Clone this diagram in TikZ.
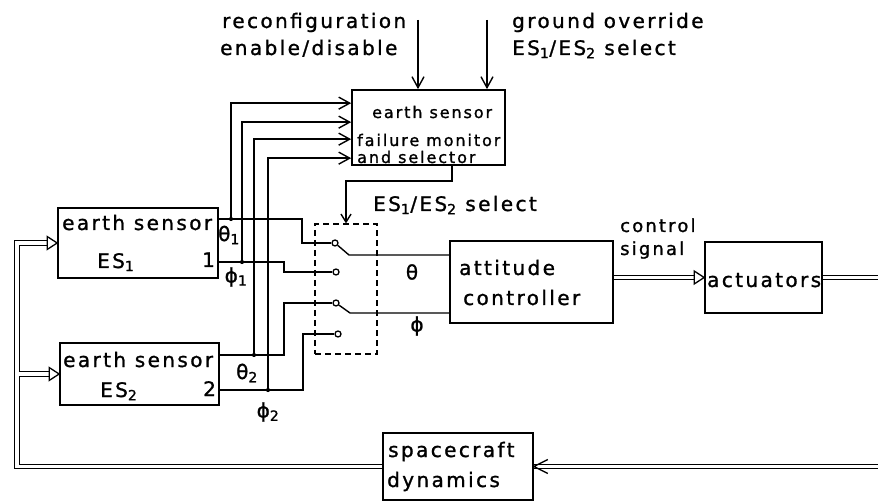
\documentclass[tikz,border=0pt]{standalone}
\usepackage{fontspec}
\setmainfont{DejaVu Sans}[LetterSpace=12, FakeBold=1.2]
\usetikzlibrary{arrows.meta,calc}
\begin{document}
\begin{tikzpicture}[x=1pt,y=-1pt,
  box/.style={draw, line width=1.7pt, inner sep=0pt},
  wire/.style={line width=1.4pt},
  arr/.style={wire, -{Straight Barb[length=11pt,width=12pt,line width=1.4pt]}},
  sarr/.style={wire, -{Straight Barb[length=8pt,width=10pt,line width=1.4pt]}},
  dbl/.style={double, double distance=3.4pt, line width=1.2pt},
  jdot/.style={circle, fill, inner sep=0pt, minimum size=4.2pt},
  contact/.style={circle, draw, fill=white, inner sep=0pt, minimum size=6pt, line width=1.3pt},
  txt/.style={inner sep=0pt, anchor=base west, font=\fontsize{20}{22}\selectfont},
  stxt/.style={txt, font=\fontsize{16}{18}\selectfont},
  ctxt/.style={txt, font=\fontsize{18}{20}\selectfont},
  lbl/.style={inner sep=0pt, font=\fontsize{20}{22}\selectfont},
  tri/.style={line width=1.3pt, fill=white}
]
\useasboundingbox (0,0) rectangle (878,502);

% boxes
\node[box, minimum width=153pt, minimum height=75pt] (mon) at (428.5,127.5) {};
\node[box, minimum width=160pt, minimum height=70pt] (es1) at (138,243) {};
\node[box, minimum width=159pt, minimum height=62pt] (es2) at (139.5,374) {};
\node[box, minimum width=163pt, minimum height=82pt] (ctrl) at (531.5,282) {};
\node[box, minimum width=117pt, minimum height=71pt] (act) at (763.5,277.5) {};
\node[box, minimum width=150pt, minimum height=67pt] (sc) at (458,466.5) {};
\node[draw, line width=1.2pt, dash pattern=on 6pt off 4pt, minimum width=62pt, minimum height=130pt, inner sep=0pt] (sw) at (346,289) {};

% texts
\node[txt] (t_rec1) at (222,28) {reconfiguration};
\node[txt] (t_rec2) at (220,55) {enable/disable};
\node[txt] (t_gro1) at (512,28) {ground override};
\node[txt] (t_gro2) at (512,55) {ES\textsubscript{1}/ES\textsubscript{2} select};
\node[stxt] (t_mon1) at (372,118) {earth sensor};
\node[stxt] (t_mon2) at (357,146) {failure monitor};
\node[stxt] (t_mon3) at (357,163) {and selector};
\node[txt] (t_sel) at (373,211) {ES\textsubscript{1}/ES\textsubscript{2} select};
\node[txt] (t_es1a) at (62,230) {earth sensor};
\node[txt] (t_es1b) at (97,268) {ES\textsubscript{1}};
\node[txt] (t_es1c) at (202,267) {1};
\node[txt] (t_es2a) at (63,367) {earth sensor};
\node[txt] (t_es2b) at (100,397) {ES\textsubscript{2}};
\node[txt] (t_es2c) at (203,396) {2};
\node[txt] (t_att1) at (459,275) {attitude};
\node[txt] (t_att2) at (463,305) {controller};
\node[ctxt] (t_cs1) at (620,232) {control};
\node[ctxt] (t_cs2) at (620,255) {signal};
\node[txt] (t_act) at (707,287) {actuators};
\node[txt] (t_sc1) at (388,457) {spacecraft};
\node[txt] (t_sc2) at (387,487) {dynamics};

\node[lbl] (l_th1) at (229,235) {θ\textsubscript{1}};
\node[lbl] (l_ph1) at (236,277) {ϕ\textsubscript{1}};
\node[lbl] (l_th2) at (247,373) {θ\textsubscript{2}};
\node[lbl] (l_ph2) at (268,412) {ϕ\textsubscript{2}};
\node[lbl] (l_th) at (412,272) {θ};
\node[lbl] (l_ph) at (417,326) {ϕ};

% switch contacts
\node[contact] (c1) at (335,243) {};
\node[contact] (c2) at (336,272) {};
\node[contact] (c3) at (336,303) {};
\node[contact] (c4) at (338,334) {};
\coordinate (a1) at (349,255);
\coordinate (a2) at (350,313);

% junctions
\coordinate (j1) at (231,219);
\coordinate (j2) at (242,262);
\coordinate (j3) at (254,355);
\coordinate (j4) at (268,390);

% sensor output wires
\draw[wire] (es1.east |- j1) -| (302,243) -- (c1);
\draw[wire] (es1.east |- j2) -| (284,272) -- (c2);
\draw[wire] (es2.east |- j3) -| (284,303) -- (c3);
\draw[wire] (es2.east |- j4) -| (303,334) -- (c4);

% switch arms
\draw[wire] (c1) -- (a1) -- (ctrl.west |- a1);
\draw[wire] (c3) -- (a2) -- (ctrl.west |- a2);

% monitor inputs
\draw[arr] (j1) |- ($(mon.north west)+(0,14)$);
\draw[arr] (j2) |- ($(mon.north west)+(0,33)$);
\draw[arr] (j3) |- ($(mon.north west)+(0,50)$);
\draw[arr] (j4) |- ($(mon.north west)+(0,69)$);
\node[jdot] (d1) at (j1) {};
\node[jdot] (d2) at (j2) {};
\node[jdot] (d3) at (j3) {};
\node[jdot] (d4) at (j4) {};

% top inputs
\coordinate (tin1) at (418,20);
\coordinate (tin2) at (487,20);
\draw[arr] (tin1) -- (tin1 |- mon.north);
\draw[arr] (tin2) -- (tin2 |- mon.north);

% select line
\draw[sarr] ($(mon.south west)+(101,0)$) -- ++(0,15) -| (sw.north);

% control signal
\draw[dbl] (ctrl.east |- act.west) -- ($(act.west)+(-10,0)$);
\draw[tri] ($(act.west)+(-10,-6.5)$) -- (act.west) -- ($(act.west)+(-10,6.5)$) -- cycle;

% actuators output
\coordinate (outA) at (878,277.5);
\draw[dbl] (act.east) -- (outA);

% spacecraft input
\coordinate (inS) at (878,466.5);
\draw[dbl] (inS) -- (sc.east);
\draw[wire] ($(sc.east)+(14,-7)$) -- (sc.east) -- ($(sc.east)+(14,7)$);

% feedback bus
\coordinate (busx) at ($(es1.west)+(-40,0)$);
\coordinate (br) at (busx |- es2.west);
\draw[dbl] (sc.west) -| (busx) -- ($(es1.west)+(-10,0)$);
\draw[tri] ($(es1.west)+(-10,-6.5)$) -- (es1.west) -- ($(es1.west)+(-10,6.5)$) -- cycle;
\draw[dbl] ($(br)+(1.7,0)$) -- ($(es2.west)+(-10,0)$);
\draw[white, line width=3.4pt] ($(br)+(1.2,0)$) -- ($(br)+(3.4,0)$);
\draw[tri] ($(es2.west)+(-10,-6.5)$) -- (es2.west) -- ($(es2.west)+(-10,6.5)$) -- cycle;
\end{tikzpicture}
\end{document}
